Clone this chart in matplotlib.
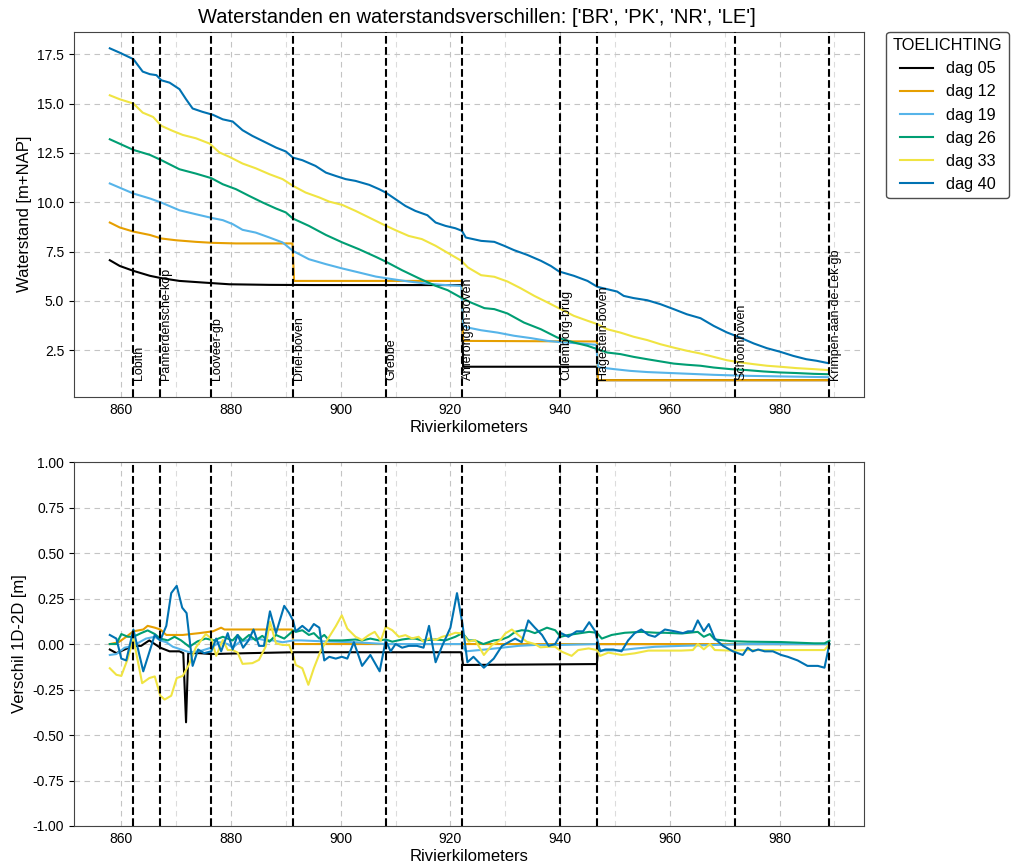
import matplotlib
matplotlib.use("Agg")
import matplotlib.pyplot as plt
from matplotlib.ticker import MultipleLocator

plt.rcParams['font.family'] = ['Liberation Sans', 'DejaVu Sans']
plt.rcParams['axes.unicode_minus'] = False

# ---------------- data ----------------
title = "Waterstanden en waterstandsverschillen: ['BR', 'PK', 'NR', 'LE']"
series_names = ["dag 05", "dag 12", "dag 19", "dag 26", "dag 33", "dag 40"]
series_colors = ["#000000", "#E69F00", "#56B4E9", "#009E73", "#F0E442", "#0072B2"]

station_names = ["Lobith", "Pannerdensche-kop", "Looveer-gb", "Driel-boven", "Grebbe",
                 "Amerongen-boven", "Culemborg-brug", "Hagestein-boven", "Schoonhoven",
                 "Krimpen-aan-de-Lek-gb"]
station_km = [862.2, 867.1, 876.4, 891.3, 908.2, 922.1, 940.0, 946.8, 971.9, 989.0]

# water levels [m+NAP]
km_wl_05 = [857.9, 859.7, 862.2, 865.2, 867.3, 870.6, 874.8, 879.7, 887.0, 895.0, 910.0,
            922.1, 922.3, 946.7, 946.9, 988.9]
wl_05 = [7.06, 6.77, 6.52, 6.27, 6.15, 6.01, 5.93, 5.84, 5.81, 5.80, 5.80,
         5.80, 1.66, 1.66, 0.98, 0.98]

km_wl_12 = [857.9, 859.7, 862.2, 865.2, 867.3, 870.0, 873.6, 876.7, 880.9, 887.0, 891.2,
            891.5, 922.1, 922.3, 946.7, 946.9, 988.9]
wl_12 = [8.97, 8.72, 8.51, 8.34, 8.16, 8.07, 7.99, 7.94, 7.91, 7.91, 7.91,
         6.01, 6.01, 2.97, 2.94, 0.98, 0.98]

km_wl_19 = [857.9, 862.2, 865.2, 867.3, 870.6, 873.6, 876.7, 878.5, 880.3, 882.1, 884.5,
            887.0, 889.4, 891.3, 894.2, 897.3, 900.3, 903.3, 906.4, 909.4, 912.4, 915.5,
            918.5, 922.0, 922.3, 923.1, 925.6, 928.6, 931.6, 934.7, 937.7, 940.7, 943.7,
            946.6, 946.9, 947.4, 949.8, 952.8, 955.9, 961.9, 968.0, 974.0, 980.1, 988.9]
wl_19 = [10.95, 10.44, 10.19, 9.98, 9.59, 9.39, 9.19, 9.09, 8.89, 8.60, 8.46,
         8.21, 7.96, 7.53, 7.11, 6.86, 6.64, 6.44, 6.23, 6.10, 5.98, 5.88,
         5.81, 5.76, 3.75, 3.65, 3.51, 3.39, 3.23, 3.11, 2.97, 2.89, 2.84,
         2.77, 1.65, 1.62, 1.54, 1.45, 1.39, 1.32, 1.25, 1.20, 1.17, 1.13]

km_wl_26 = [857.9, 862.2, 865.2, 867.3, 870.6, 873.6, 876.4, 878.5, 880.9, 883.3, 885.8,
            888.2, 890.0, 891.3, 894.2, 897.3, 900.3, 903.3, 906.4, 908.2, 911.2, 914.2,
            917.3, 919.5, 921.9, 923.7, 926.2, 928.0, 930.4, 933.4, 936.5, 939.5, 942.5,
            945.0, 946.8, 948.6, 951.0, 953.4, 955.9, 958.3, 960.7, 963.1, 965.6, 968.0,
            971.0, 974.0, 977.1, 980.1, 983.1, 986.2, 988.9]
wl_26 = [13.19, 12.65, 12.40, 12.13, 11.67, 11.45, 11.22, 10.91, 10.66, 10.32, 9.98,
         9.68, 9.48, 9.17, 8.80, 8.34, 7.96, 7.62, 7.23, 6.99, 6.55, 6.15,
         5.76, 5.54, 5.17, 4.92, 4.63, 4.58, 4.36, 3.90, 3.56, 3.14, 2.89,
         2.72, 2.55, 2.38, 2.30, 2.16, 2.04, 1.93, 1.82, 1.76, 1.71, 1.62,
         1.54, 1.49, 1.42, 1.37, 1.34, 1.30, 1.28]

km_wl_33 = [857.9, 859.7, 862.2, 863.9, 865.8, 867.3, 869.4, 871.2, 873.6, 876.1, 877.9,
            879.7, 882.1, 884.5, 887.0, 889.4, 891.3, 893.6, 896.1, 897.9, 900.3, 902.7,
            905.2, 907.6, 910.0, 912.4, 914.8, 917.3, 919.7, 922.0, 923.2, 925.6, 928.0,
            930.4, 932.8, 935.3, 937.7, 940.1, 942.5, 945.0, 946.8, 948.6, 951.0, 953.4,
            955.9, 958.3, 960.7, 963.1, 965.6, 968.0, 970.4, 972.8, 975.3, 977.7, 980.1,
            983.1, 986.2, 988.9]
wl_33 = [15.42, 15.22, 15.00, 14.54, 14.32, 13.87, 13.61, 13.41, 13.24, 12.97, 12.52,
         12.30, 11.96, 11.72, 11.42, 11.17, 10.83, 10.49, 10.24, 10.03, 9.86, 9.56,
         9.22, 8.89, 8.58, 8.29, 8.13, 7.79, 7.40, 7.03, 6.69, 6.30, 6.22,
         5.98, 5.64, 5.25, 4.92, 4.58, 4.24, 3.99, 3.82, 3.56, 3.39, 3.18,
         3.01, 2.80, 2.63, 2.47, 2.33, 2.16, 1.99, 1.88, 1.79, 1.71, 1.66,
         1.59, 1.54, 1.49]

km_wl_40 = [857.9, 859.7, 862.2, 863.9, 865.2, 866.4, 867.3, 868.8, 870.6, 871.8, 873.0,
            874.8, 876.7, 878.5, 880.3, 882.1, 883.9, 885.8, 888.2, 890.0, 891.3, 893.0,
            895.4, 897.3, 899.1, 900.9, 902.7, 905.2, 907.0, 908.2, 910.0, 911.8, 913.6,
            915.8, 917.3, 919.1, 920.9, 922.1, 922.8, 925.6, 928.0, 929.8, 931.6, 934.0,
            936.5, 938.3, 939.8, 942.5, 945.0, 946.8, 948.6, 950.4, 951.6, 953.4, 955.9,
            958.3, 960.7, 963.1, 965.6, 968.0, 970.4, 972.8, 975.3, 977.7, 980.1, 982.5,
            984.9, 986.8, 988.9]
wl_40 = [17.80, 17.58, 17.25, 16.62, 16.49, 16.44, 16.18, 16.06, 15.73, 15.22, 14.75,
         14.58, 14.43, 14.20, 14.09, 13.65, 13.36, 13.10, 12.77, 12.57, 12.26, 12.13,
         11.84, 11.50, 11.33, 11.17, 11.08, 10.88, 10.66, 10.49, 10.15, 9.81, 9.56,
         9.34, 8.97, 8.80, 8.68, 8.55, 8.21, 8.04, 7.99, 7.79, 7.57, 7.33,
         7.03, 6.77, 6.49, 6.27, 6.01, 5.71, 5.59, 5.47, 5.25, 5.14, 5.03,
         4.83, 4.58, 4.32, 4.12, 3.73, 3.40, 3.14, 2.84, 2.60, 2.42, 2.21,
         2.04, 1.96, 1.84]

# differences 1D-2D [m]
km_df_05 = [857.9, 859.1, 860.6, 862.2, 863.6, 865.1, 866.1, 867.1, 868.8, 870.6, 871.3,
            871.8, 872.2, 874.2, 876.4, 883.3, 891.4, 922.0, 922.3, 946.7, 947.0, 989.0]
df_05 = [-0.03, -0.05, -0.03, -0.01, -0.01, 0.02, 0.0, -0.02, -0.04, -0.04, -0.05,
         -0.43, -0.05, -0.05, -0.055, -0.05, -0.045, -0.045, -0.115, -0.11, 0.0, 0.0]

km_df_12 = [857.9, 859.5, 860.9, 862.2, 864.0, 864.8, 866.1, 867.1, 868.2, 871.2, 874.2,
            876.7, 878.2, 878.8, 880.3, 891.1, 891.4, 989.0]
df_12 = [0.0, 0.01, 0.04, 0.07, 0.08, 0.10, 0.09, 0.08, 0.05, 0.05, 0.06,
         0.07, 0.09, 0.08, 0.08, 0.08, 0.0, 0.0]

km_df_19 = [857.9, 859.1, 860.6, 862.2, 863.3, 864.5, 866.1, 867.1, 868.2, 869.4, 870.9,
            872.4, 874.2, 876.4, 877.9, 879.4, 880.3, 881.5, 883.3, 884.8, 886.4, 887.6,
            889.4, 891.4, 892.8, 896.7, 902.7, 908.2, 922.0, 922.8, 926.4, 929.4, 932.4,
            935.4, 940.0, 946.7, 947.3, 950.6, 953.6, 957.3, 962.1, 968.2, 974.2, 989.1]
df_19 = [-0.06, -0.055, -0.02, -0.01, 0.01, 0.03, 0.04, 0.02, 0.01, -0.015, -0.03,
         -0.045, -0.04, -0.02, 0.01, 0.0, -0.02, 0.01, 0.025, 0.03, 0.02, 0.02,
         0.01, 0.02, 0.02, 0.015, 0.01, 0.0, 0.0, -0.04, -0.03, -0.02, -0.01,
         -0.005, -0.005, 0.0, -0.035, -0.035, -0.025, -0.015, -0.01, -0.005, 0.0, 0.0]

km_df_26 = [857.9, 859.1, 860.0, 861.2, 862.2, 863.6, 864.8, 866.1, 867.1, 868.5, 869.7,
            870.9, 872.4, 873.9, 875.4, 876.9, 878.5, 880.3, 881.2, 882.1, 883.3, 884.5,
            885.7, 887.0, 888.2, 889.7, 891.4, 891.8, 893.0, 894.2, 895.1, 896.1, 897.0,
            897.9, 900.3, 902.7, 903.9, 905.4, 907.0, 908.2, 909.4, 911.2, 912.4, 913.6,
            914.8, 917.3, 919.1, 920.9, 922.2, 923.3, 924.5, 926.0, 927.9, 929.4, 930.6,
            931.8, 933.0, 934.2, 935.4, 937.6, 939.1, 940.1, 941.5, 943.3, 945.3, 946.7,
            947.6, 949.4, 951.8, 954.8, 957.6, 959.1, 962.1, 965.1, 966.2, 967.3, 968.2,
            971.2, 974.2, 980.3, 986.3, 988.2, 989.1]
df_26 = [0.0, 0.0, 0.055, 0.04, 0.04, 0.06, 0.075, 0.055, 0.03, 0.02, 0.04,
         0.02, -0.015, 0.015, 0.03, 0.02, 0.04, 0.02, 0.05, 0.02, 0.05, 0.02,
         0.045, 0.013, 0.05, 0.03, 0.075, 0.067, 0.076, 0.05, 0.06, 0.03, 0.05,
         0.02, 0.02, 0.025, 0.02, 0.03, 0.02, 0.025, 0.013, 0.025, 0.03, 0.03,
         0.02, 0.025, 0.02, 0.04, 0.06, 0.02, 0.02, 0.0, 0.02, 0.025, 0.04,
         0.067, 0.076, 0.073, 0.06, 0.09, 0.076, 0.04, 0.05, 0.058, 0.067, 0.062,
         0.03, 0.05, 0.062, 0.067, 0.062, 0.062, 0.058, 0.067, 0.04, 0.055, 0.025,
         0.016, 0.013, 0.011, 0.004, 0.004, 0.018]

km_df_33 = [857.9, 859.1, 860.0, 861.2, 862.2, 863.8, 865.1, 866.1, 867.1, 867.9, 869.1,
            870.1, 871.2, 872.3, 873.6, 875.4, 876.4, 877.3, 878.5, 879.4, 880.3, 881.2,
            882.1, 883.9, 885.1, 886.3, 887.1, 888.2, 889.4, 890.6, 891.4, 891.8, 893.0,
            894.1, 895.1, 896.4, 897.9, 899.1, 900.2, 901.2, 902.7, 903.9, 905.1, 906.2,
            907.3, 908.2, 909.4, 910.6, 911.8, 913.0, 914.2, 915.1, 916.1, 917.3, 918.5,
            919.7, 920.9, 922.2, 923.3, 924.5, 926.1, 927.6, 929.1, 930.0, 931.2, 932.4,
            933.9, 935.4, 936.4, 937.9, 939.1, 940.3, 942.1, 943.3, 945.2, 946.7, 947.3,
            948.8, 951.2, 953.6, 956.1, 959.1, 962.1, 964.2, 965.1, 966.2, 967.3, 968.2,
            971.2, 974.2, 980.3, 986.3, 988.2, 989.1]
df_33 = [-0.133, -0.169, -0.175, -0.078, 0.03, -0.215, -0.187, -0.178, -0.284, -0.305, -0.284,
         -0.187, -0.175, -0.115, -0.018, 0.055, 0.031, -0.065, 0.022, -0.033, -0.033, -0.047,
         -0.109, -0.105, -0.087, -0.015, 0.122, 0.004, -0.005, -0.005, -0.07, -0.115, -0.133,
         -0.224, -0.133, -0.033, 0.04, 0.098, 0.158, 0.085, 0.04, 0.022, 0.049, 0.067,
         0.018, 0.095, 0.076, 0.04, 0.049, 0.031, 0.04, 0.013, 0.031, 0.022, 0.04,
         0.049, 0.062, 0.058, 0.013, 0.022, -0.06, -0.005, 0.022, 0.058, 0.08, 0.049,
         0.013, 0.0, -0.018, -0.015, -0.015, -0.042, -0.065, -0.033, -0.024, -0.033, -0.065,
         -0.047, -0.06, -0.051, -0.036, -0.036, -0.036, -0.033, 0.0, -0.029, 0.0, -0.033,
         -0.036, -0.033, -0.033, -0.033, -0.033, 0.0]

km_df_40 = [857.9, 859.1, 860.0, 860.9, 862.2, 864.0, 866.1, 867.1, 868.2, 869.1, 870.1,
            871.1, 871.9, 873.0, 874.0, 875.1, 876.4, 877.3, 878.2, 879.4, 880.3, 881.2,
            882.2, 883.2, 884.1, 885.1, 886.0, 887.1, 888.2, 889.7, 890.6, 891.3, 891.8,
            893.0, 894.2, 895.1, 896.1, 897.0, 897.9, 899.1, 900.2, 901.2, 902.4, 903.9,
            905.4, 907.1, 908.2, 909.1, 910.0, 911.2, 912.4, 913.9, 915.1, 916.1, 917.3,
            918.5, 920.0, 921.2, 922.2, 923.1, 924.2, 926.1, 927.9, 929.4, 930.6, 931.8,
            933.0, 934.2, 935.4, 936.7, 937.9, 939.1, 940.2, 941.5, 943.0, 944.2, 945.3,
            946.4, 947.3, 948.2, 949.7, 951.2, 952.4, 953.6, 954.8, 956.1, 957.3, 959.1,
            960.9, 962.4, 963.3, 964.2, 965.1, 966.2, 967.1, 968.2, 969.7, 971.5, 973.3,
            974.2, 975.1, 976.1, 977.3, 978.8, 980.3, 981.5, 983.3, 985.1, 987.0, 988.2,
            989.1]
df_40 = [0.05, 0.03, -0.08, -0.09, 0.08, -0.15, 0.05, 0.02, 0.10, 0.28, 0.32,
         0.20, 0.17, -0.12, -0.03, -0.05, -0.04, 0.03, -0.04, 0.06, -0.03, 0.05,
         -0.02, 0.02, 0.08, -0.01, -0.01, 0.18, 0.06, 0.21, 0.17, 0.13, 0.07,
         0.10, 0.07, 0.11, 0.09, -0.09, -0.07, -0.08, -0.07, -0.08, 0.01, -0.12,
         -0.06, -0.15, 0.02, -0.04, 0.0, -0.02, -0.01, -0.01, -0.02, 0.10, -0.10,
         -0.01, 0.09, 0.28, 0.11, -0.10, -0.07, -0.13, -0.08, -0.01, 0.01, 0.03,
         0.01, 0.13, 0.09, 0.05, -0.01, 0.0, 0.06, 0.04, 0.07, 0.07, 0.12,
         0.07, -0.04, -0.03, -0.03, -0.04, 0.02, 0.06, 0.08, 0.05, 0.04, 0.08,
         0.07, 0.06, 0.07, 0.07, 0.13, 0.07, 0.11, 0.03, -0.01, -0.04, -0.06,
         -0.02, -0.04, -0.03, -0.04, -0.04, -0.06, -0.07, -0.09, -0.12, -0.12, -0.13,
         0.0]

wl_km = [km_wl_05, km_wl_12, km_wl_19, km_wl_26, km_wl_33, km_wl_40]
wl_vals = [wl_05, wl_12, wl_19, wl_26, wl_33, wl_40]
df_km = [km_df_05, km_df_12, km_df_19, km_df_26, km_df_33, km_df_40]
df_vals = [df_05, df_12, df_19, df_26, df_33, df_40]

# ---------------- figure ----------------
fig = plt.figure(figsize=(10.12, 8.67), dpi=100)
ax1 = fig.add_axes([0.073, 0.5424, 0.781, 0.4210])
ax2 = fig.add_axes([0.073, 0.0473, 0.781, 0.4197])

for x, y, name, c in zip(wl_km, wl_vals, series_names, series_colors):
    ax1.plot(x, y, color=c, lw=1.5, label=name)
for x, y, c in zip(df_km, df_vals, series_colors):
    ax2.plot(x, y, color=c, lw=1.5)

ax2.set_xlim(ax1.get_xlim())
ax2.set_ylim(-1.0, 1.0)
ax2.yaxis.set_major_locator(MultipleLocator(0.25))
ax2.yaxis.set_major_formatter(matplotlib.ticker.FormatStrFormatter('%.2f'))

for ax in (ax1, ax2):
    for k in station_km:
        ax.axvline(k, color='k', ls='--', lw=1.5, zorder=3)
    ax.xaxis.set_major_locator(MultipleLocator(20))
    ax.xaxis.set_minor_locator(MultipleLocator(10))
    ax.grid(which='major', ls=(0, (5, 4)), color='#c4c4c4', lw=0.8)
    ax.grid(which='minor', axis='x', ls=(0, (5, 4)), color='#dcdcdc', lw=0.8)
    ax.set_axisbelow(True)
    ax.tick_params(labelsize=10)
    ax.tick_params(axis='x', which='both', length=0, pad=4.5)
    for sp in ax.spines.values():
        sp.set_color('#444444')
    ax.set_xlabel('Rivierkilometers', fontsize=12, labelpad=2)

for name, k in zip(station_names, station_km):
    ax1.text(k, 1.0, name, rotation=90, ha='left', va='bottom', fontsize=9)

ax1.set_ylabel('Waterstand [m+NAP]', fontsize=12)
ax2.set_ylabel('Verschil 1D-2D [m]', fontsize=12)
ax1.set_title(title, fontsize=14.5, pad=6, x=0.51)

leg = ax1.legend(title='TOELICHTING', loc='upper left', bbox_to_anchor=(1.028, 1.0),
                 borderaxespad=0, fontsize=11.7, title_fontsize=11.7, framealpha=1,
                 edgecolor='0.3', fancybox=True)

fig.savefig('out.png', dpi=100)
